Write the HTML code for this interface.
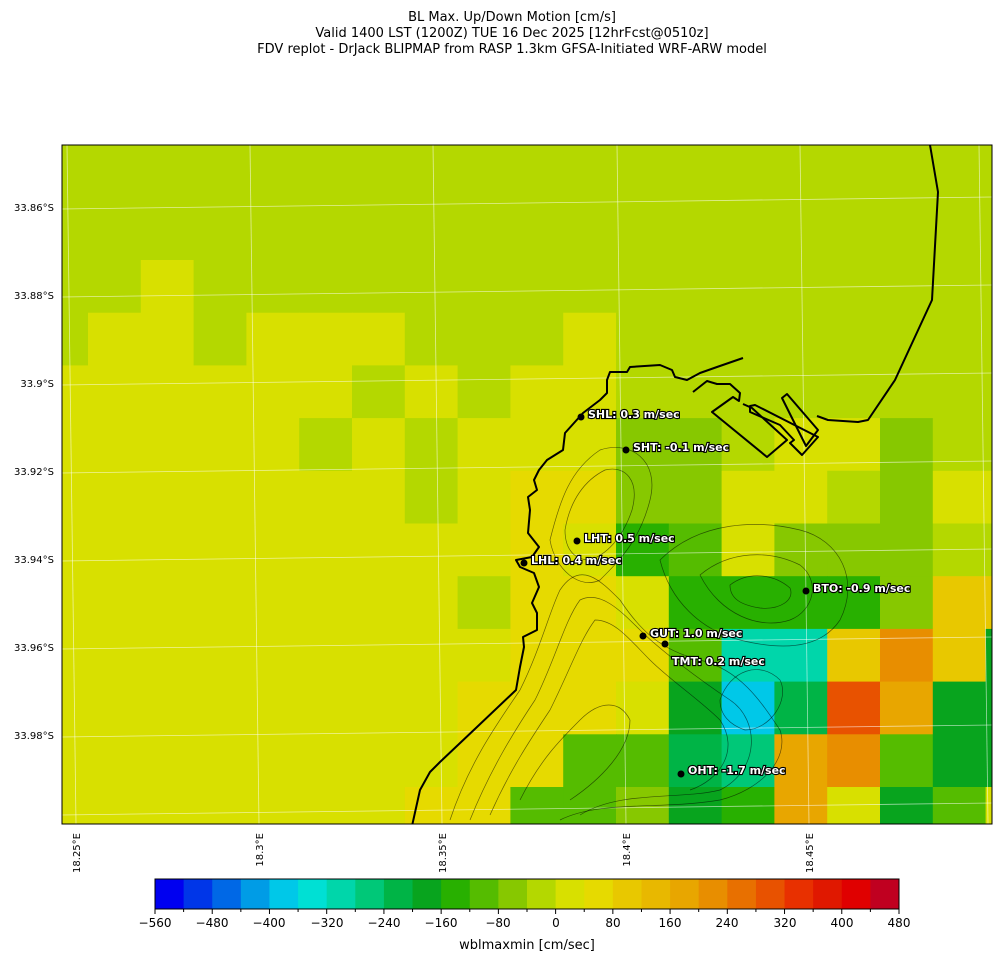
<!DOCTYPE html>
<html><head><meta charset="utf-8"><style>
body{margin:0;background:#fff;}
svg{display:block;font-family:"DejaVu Sans","Liberation Sans",sans-serif;}
.st{font-size:11px;font-weight:bold;fill:#fff;stroke:#000;stroke-width:2.2px;paint-order:stroke;}
</style></head><body>
<svg id="s" width="1001" height="962" viewBox="0 0 1001 962" xmlns="http://www.w3.org/2000/svg">
<text x="512" y="21" font-size="13" text-anchor="middle">BL Max. Up/Down Motion [cm/s]</text>
<text x="512" y="37" font-size="13" text-anchor="middle">Valid 1400 LST (1200Z) TUE 16 Dec 2025 [12hrFcst@0510z]</text>
<text x="512" y="53" font-size="13" text-anchor="middle">FDV replot - DrJack BLIPMAP from RASP 1.3km GFSA-Initiated WRF-ARW model</text>
<defs><clipPath id="cp"><rect x="62" y="145" width="930" height="679"/></clipPath></defs>
<g id="cells" clip-path="url(#cp)"></g>
<g clip-path="url(#cp)" stroke="#fff" stroke-opacity="0.6" stroke-width="0.8" fill="none">
<line x1="62" y1="209" x2="992" y2="197"/>
<line x1="62" y1="297" x2="992" y2="285"/>
<line x1="62" y1="385" x2="992" y2="373"/>
<line x1="62" y1="473" x2="992" y2="461"/>
<line x1="62" y1="561" x2="992" y2="549"/>
<line x1="62" y1="649" x2="992" y2="637"/>
<line x1="62" y1="737" x2="992" y2="725"/>
<line x1="62" y1="815" x2="992" y2="803"/>
<line x1="76" y1="824" x2="67" y2="145"/>
<line x1="259" y1="824" x2="250" y2="145"/>
<line x1="442" y1="824" x2="433" y2="145"/>
<line x1="626" y1="824" x2="617" y2="145"/>
<line x1="809" y1="824" x2="800" y2="145"/>
<line x1="988" y1="824" x2="979" y2="145"/>
</g>
<g clip-path="url(#cp)" fill="none" stroke="#000" stroke-opacity="0.55" stroke-width="0.7">
<path d="M450,820 C470,760 500,720 520,690 C540,650 550,610 560,590 C580,560 600,580 620,600 C640,630 660,650 700,660 C740,670 760,700 780,730 C790,760 760,790 720,800 C660,810 600,800 560,820"/>
<path d="M470,820 C490,770 515,730 535,700 C555,660 565,620 580,600 C600,590 620,610 640,630 C660,650 700,680 730,700 C760,720 760,770 720,790 C680,800 620,790 580,815"/>
<path d="M490,815 C510,770 530,740 550,710 C570,670 580,640 595,620 C615,620 630,640 650,660 C670,680 700,700 720,720 C740,750 720,780 690,790"/>
<path d="M550,540 C560,500 570,470 600,450 C630,440 660,460 650,500 C640,540 620,560 600,580 C580,590 555,570 550,540Z"/>
<path d="M565,530 C570,500 585,480 605,470 C625,465 640,480 632,510 C622,540 605,555 590,560 C575,560 565,550 565,530Z"/>
<path d="M660,560 C700,520 760,520 800,530 C840,540 860,580 840,620 C820,650 780,650 740,640 C700,630 670,600 660,560Z"/>
<path d="M700,575 C730,550 770,550 800,565 C820,580 815,610 790,620 C760,630 720,615 700,575Z"/>
<path d="M730,585 C750,570 775,575 790,588 C795,600 780,610 760,608 C740,605 730,598 730,585Z"/>
<path d="M720,700 C730,670 760,660 780,680 C790,700 770,730 745,730 C730,725 720,715 720,700Z"/>
<path d="M520,800 C540,760 560,740 580,720 C600,700 620,700 630,720 C630,750 600,780 570,800"/>
</g>
<g clip-path="url(#cp)" fill="none" stroke="#000" stroke-width="2" stroke-linejoin="round">
<path d="M412,826 L420,790 L430,772 L440,762 L477,727 L516,690 L520,667 L524,647 L523,637 L537,630 L537,613 L532,603 L539,587 L534,573 L520,567 L516,560 L532,557 L539,547 L528,533 L530,510 L528,497 L537,490 L534,480 L539,470 L547,460 L563,450 L565,433 L574,423 L583,413 L600,400 L607,393 L607,380 L610,372 L627,372 L630,367 L660,365 L672,370 L675,377 L687,380 L700,373 L717,367 L743,358"/>
<path d="M930,145 L938,192 L932,300 L895,380 L868,420 L858,422 L828,420 L817,416"/>
<path d="M693,392 L707,381 L717,384 L730,384 L740,393 L739,401 L733,397 L712,412 L767,457 L787,440 L752,408 L743,404"/>
<path d="M750,406 L755,405 L818,437 L802,455 L790,443 L794,440 L780,425 L750,412 Z"/>
<path d="M782,398 L787,394 L818,430 L806,446 Z"/>
</g>
<rect x="62" y="145" width="930" height="679" fill="none" stroke="#000" stroke-width="1"/>
<g font-size="10" text-anchor="end">
<text x="54" y="211">33.86°S</text>
<text x="54" y="299">33.88°S</text>
<text x="54" y="387">33.9°S</text>
<text x="54" y="475">33.92°S</text>
<text x="54" y="563">33.94°S</text>
<text x="54" y="651">33.96°S</text>
<text x="54" y="739">33.98°S</text>
</g>
<g font-size="10" text-anchor="end">
<text transform="translate(80,833) rotate(-90)">18.25°E</text>
<text transform="translate(263,833) rotate(-90)">18.3°E</text>
<text transform="translate(446,833) rotate(-90)">18.35°E</text>
<text transform="translate(630,833) rotate(-90)">18.4°E</text>
<text transform="translate(813,833) rotate(-90)">18.45°E</text>
</g>
<g fill="#000">
<circle cx="581" cy="417" r="3.5"/><circle cx="626" cy="450" r="3.5"/><circle cx="577" cy="541" r="3.5"/>
<circle cx="524" cy="563" r="3.5"/><circle cx="806" cy="591" r="3.5"/><circle cx="643" cy="636" r="3.5"/>
<circle cx="665" cy="644" r="3.5"/><circle cx="681" cy="774" r="3.5"/>
</g>
<g class="st">
<text x="588" y="418">SHL: 0.3 m/sec</text>
<text x="633" y="451">SHT: -0.1 m/sec</text>
<text x="584" y="542">LHT: 0.5 m/sec</text>
<text x="531" y="564">LHL: 0.4 m/sec</text>
<text x="813" y="592">BTO: -0.9 m/sec</text>
<text x="650" y="637">GUT: 1.0 m/sec</text>
<text x="672" y="665">TMT: 0.2 m/sec</text>
<text x="688" y="774">OHT: -1.7 m/sec</text>
</g>
<g id="cb"></g>
<rect x="155" y="879" width="744" height="30" fill="none" stroke="#000" stroke-width="1"/>
<g font-size="12" text-anchor="middle">
<text x="155" y="927">−560</text><text x="212" y="927">−480</text><text x="269" y="927">−400</text>
<text x="327" y="927">−320</text><text x="384" y="927">−240</text><text x="441" y="927">−160</text>
<text x="498" y="927">−80</text><text x="556" y="927">0</text><text x="613" y="927">80</text>
<text x="670" y="927">160</text><text x="727" y="927">240</text><text x="785" y="927">320</text>
<text x="842" y="927">400</text><text x="899" y="927">480</text>
</g>
<text x="527" y="949" font-size="13" text-anchor="middle">wblmaxmin [cm/sec]</text>
</svg>
<script>
var P=["#0000f0","#0036e8","#0068e6","#009ce6","#00c8e8","#00e0d4","#00d6aa","#00c878","#00b446","#08a41e","#28b000","#55bc00","#87c800","#b4d800","#d8e000","#e6da00","#e8c800","#e8b800","#e8a600","#e88e00","#e87000","#e85200","#e83000","#e01800","#e00000","#c00020"];
var rows=["nnnnnnnnnnnnnnnnnnn","nnnnnnnnnnnnnnnnnnn","nnnnnnnnnnnnnnnnnnn","nnonnnnnnnnnnnnnnnn",
"noonooonnnonnnnnnnn","oooooononoonnnnnnnn","ooooonon"+"ooommnoomnn","ooooooonoppmmoonmoo",
"ooooooooopoklommmnn","oooooooonppokkkkmqq","ooooooooopppl"+"ggqtqj","oooooooopppojeivsjj",
"ooooooooppllihstljj","oooooooppllmjksojlo"];
var ns="http://www.w3.org/2000/svg",g=document.getElementById("cells");
for(var r=0;r<rows.length;r++){var s=rows[r];for(var c=0;c<19;c++){var ch=s[c];if(!ch)continue;var e=document.createElementNS(ns,"rect");
e.setAttribute("x",(35.2+52.8*c).toFixed(1));e.setAttribute("y",(101.9+52.7*r).toFixed(1));e.setAttribute("width","53.3");e.setAttribute("height","53.2");
e.setAttribute("fill",P[ch.charCodeAt(0)-97]);g.appendChild(e);}}
var cb=document.getElementById("cb");
for(var i=0;i<26;i++){var e=document.createElementNS(ns,"rect");e.setAttribute("x",(155+i*744/26).toFixed(2));e.setAttribute("y","879");
e.setAttribute("width",(744/26+0.5).toFixed(2));e.setAttribute("height","30");e.setAttribute("fill",P[i]);cb.appendChild(e);}
for(var i=0;i<=26;i++){var l=document.createElementNS(ns,"line");var x=155+i*744/26;l.setAttribute("x1",x);l.setAttribute("x2",x);l.setAttribute("y1","909");l.setAttribute("y2",i%2==0?"914":"912");l.setAttribute("stroke","#000");cb.appendChild(l);}
</script>
</body></html>
